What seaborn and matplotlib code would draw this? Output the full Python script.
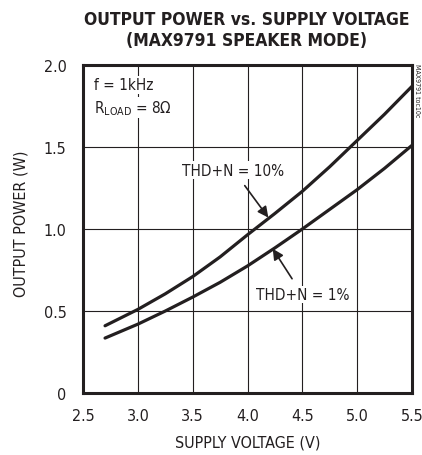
import pandas as pd
import matplotlib
matplotlib.use('Agg')
import matplotlib.pyplot as plt
import seaborn as sns

# data
voltage = [2.7, 3.0, 3.25, 3.5, 3.75, 4.0, 4.25, 4.5, 4.75, 5.0, 5.25, 5.5]
thd10 = [0.41, 0.51, 0.605, 0.71, 0.83, 0.965, 1.095, 1.23, 1.38, 1.54, 1.70, 1.87]
thd1 = [0.335, 0.42, 0.50, 0.585, 0.675, 0.775, 0.885, 1.0, 1.12, 1.24, 1.37, 1.51]
x_ticks = [2.5, 3.0, 3.5, 4.0, 4.5, 5.0, 5.5]
y_ticks = [0, 0.5, 1.0, 1.5, 2.0]
y_tick_labels = ['0', '0.5', '1.0', '1.5', '2.0']

df = pd.DataFrame({
    'voltage': voltage + voltage,
    'power': thd10 + thd1,
    'curve': ['THD+N = 10%'] * len(voltage) + ['THD+N = 1%'] * len(voltage),
})

sns.set_style('white')
plt.rcParams['font.family'] = ['DejaVu Sans']
plt.rcParams['font.stretch'] = 'condensed'  # narrow look of the original
plt.rcParams['mathtext.default'] = 'regular'
ink = '#231f20'

fig = plt.figure(figsize=(4.22, 4.56), dpi=100)
ax = fig.add_axes([0.197, 0.136, 0.779, 0.719])

sns.lineplot(data=df, x='voltage', y='power', hue='curve', ax=ax,
             palette=[ink, ink], linewidth=2.3, legend=False)

ax.set_xlim(2.5, 5.5)
ax.set_ylim(0, 2.0)
ax.set_xticks(x_ticks)
ax.set_xticklabels([f'{v:.1f}' for v in x_ticks])
ax.set_yticks(y_ticks)
ax.set_yticklabels(y_tick_labels)
ax.tick_params(length=0, labelsize=11.5, colors=ink)
ax.tick_params(axis='x', pad=11)
ax.tick_params(axis='y', pad=12)
ax.grid(True, color=ink, linewidth=0.8)
for s in ax.spines.values():
    s.set_linewidth(2.2)
    s.set_color(ink)

ax.set_xlabel('SUPPLY VOLTAGE (V)', fontsize=11.5, color=ink, labelpad=8)
ax.set_ylabel('OUTPUT POWER (W)', fontsize=11.5, color=ink)
ax.yaxis.set_label_coords(-0.165, 0.52)

fig.text(0.585, 0.975, 'OUTPUT POWER vs. SUPPLY VOLTAGE\n(MAX9791 SPEAKER MODE)',
         ha='center', va='top', fontsize=12.5, fontweight='bold',
         color=ink, linespacing=1.15)

box = dict(facecolor='white', edgecolor='none', pad=1)
ax.text(2.6, 1.88, 'f = 1kHz', fontsize=11, color=ink, va='center', bbox=box)
ax.text(2.6, 1.74, r'R$_{LOAD}$ = 8Ω', fontsize=11, color=ink, va='center', bbox=box)

ax.annotate('THD+N = 10%', xy=(4.19, 1.07), xytext=(3.87, 1.36),
            fontsize=11, color=ink, ha='center', va='center', bbox=box,
            arrowprops=dict(arrowstyle='-|>', color=ink, lw=1.2,
                            mutation_scale=16, shrinkA=6, shrinkB=0))
ax.annotate('THD+N = 1%', xy=(4.23, 0.88), xytext=(4.5, 0.60),
            fontsize=11, color=ink, ha='center', va='center', bbox=box,
            arrowprops=dict(arrowstyle='-|>', color=ink, lw=1.2,
                            mutation_scale=16, shrinkA=6, shrinkB=0))

fig.text(0.995, 0.86, 'MAX9791 toc10c', rotation=-90, fontsize=5,
         color=ink, ha='right', va='top')

fig.savefig('out.png', dpi=100)
